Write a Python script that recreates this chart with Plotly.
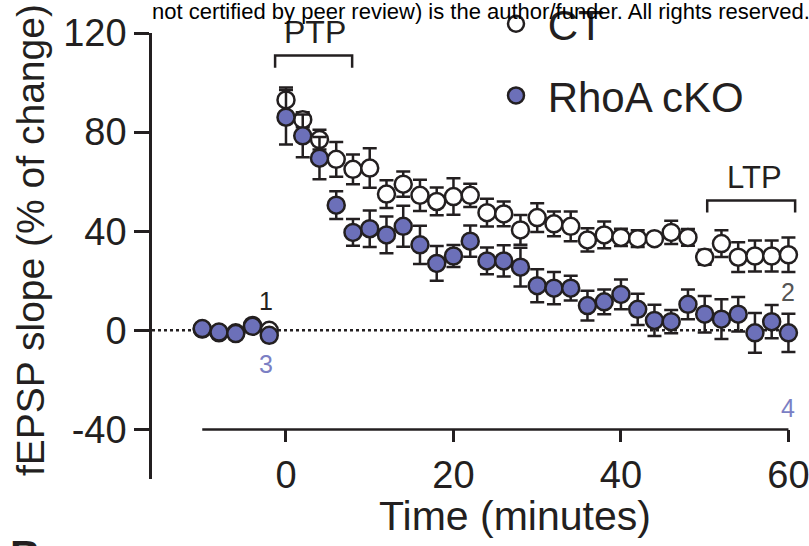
import plotly.graph_objects as go

# ---- data ----
time_base = [-10, -8, -6, -4, -2]
time_post = [0, 2, 4, 6, 8, 10, 12, 14, 16, 18, 20, 22, 24, 26, 28, 30,
             32, 34, 36, 38, 40, 42, 44, 46, 48, 50, 52, 54, 56, 58, 60]

ct_base = [0.5, -1, -1, 2, 0]
ct_base_err = [1, 1, 1, 1, 1]
ko_base = [0.7, -0.7, -1.3, 1.6, -2]
ko_base_err = [1, 1, 1, 1, 1]

ct_post = [93, 85, 77, 69, 65, 65.5, 55, 59, 54.5, 52, 54, 54.5, 47.5, 47, 40.5, 45.5,
           43, 42, 36.5, 38.5, 37.5, 37, 37, 39.5, 37.5, 29.5, 35, 29.5, 30, 30, 30.5]
ct_post_err = [5, 3, 4, 7, 6, 8, 5.6, 5.1, 6.3, 5.6, 7.4, 4.7, 5.6, 5, 6, 5.8,
               5, 6, 4.7, 5.4, 3.5, 3.4, 1, 4.7, 3.4, 3, 5.4, 6, 6.3, 6.3, 7]
ko_post = [86, 78.5, 69.5, 50.5, 39.5, 41, 38.5, 42, 34.5, 27, 30, 36, 28, 28, 25.5, 18,
           17, 17, 10, 11.5, 14.5, 8.5, 4, 3.5, 10.5, 6.5, 4.5, 6.5, -1, 3.5, -1]
ko_post_err = [11, 8.6, 8.5, 5.6, 5.4, 7.4, 7.4, 8.3, 7.7, 7, 4.4, 6.3, 5.4, 6.3, 7.8, 6.7,
               6.5, 5, 6, 5, 6, 6.3, 6.3, 4.7, 6, 7.4, 8, 7, 8, 6.7, 7.7]

series_names = ["CT", "RhoA cKO"]
x_ticks = [0, 20, 40, 60]
x_ticktext = ["0", "20", "40", "60"]
y_ticks = [-40, 0, 40, 80, 120]
y_ticktext = ["-40", "0", "40", "80", "120"]

# ---- style ----
INK = "#231f20"
BLUE = "#6c70b9"
LBLUE = "#7b7fc4"
FONT = "Liberation Sans, Arial, sans-serif"

times = time_base + time_post
ct = ct_base + ct_post
ct_err = ct_base_err + ct_post_err
ko = ko_base + ko_post
ko_err = ko_base_err + ko_post_err

fig = go.Figure()

def add_series(y, err, name, fill, group):
    fig.add_trace(go.Scatter(
        x=times, y=y, mode="markers", name=" " + name, legendgroup=group,
        marker=dict(size=17, color=fill, line=dict(color=INK, width=2.5)),
        error_y=dict(type="data", array=err, visible=True, color=INK,
                     thickness=2.5, width=7),
        cliponaxis=False,
    ))

add_series(ct, ct_err, series_names[0], "white", "g1")
add_series(ko, ko_err, series_names[1], BLUE, "g2")

shapes = [
    # dotted zero line
    dict(type="line", xref="x", yref="y", x0=-16, x1=60.5, y0=0, y1=0,
         line=dict(color=INK, width=2.5, dash="3px,3px"), layer="below"),
    # x-axis line (offset)
    dict(type="line", xref="x", yref="y", x0=-10, x1=60, y0=-40, y1=-40,
         line=dict(color=INK, width=2.5)),
    # PTP bracket
    dict(type="path", xref="x", yref="y",
         path="M -1.3,106 L -1.3,110.9 L 7.9,110.9 L 7.9,106",
         line=dict(color=INK, width=2.5)),
    # LTP bracket
    dict(type="path", xref="x", yref="y",
         path="M 50.3,47.6 L 50.3,52.4 L 60.8,52.4 L 60.8,47.6",
         line=dict(color=INK, width=2.5)),
]

annotations = [
    dict(text="PTP", x=3.5, y=112.5, xref="x", yref="y", showarrow=False,
         yanchor="bottom", font=dict(size=32, color=INK, family=FONT)),
    dict(text="LTP", x=56.0, y=54, xref="x", yref="y", showarrow=False,
         yanchor="bottom", font=dict(size=31, color=INK, family=FONT)),
    dict(text="1", x=-2.4, y=12, xref="x", yref="y", showarrow=False,
         font=dict(size=25, color=INK, family=FONT)),
    dict(text="3", x=-2.4, y=-13.7, xref="x", yref="y", showarrow=False,
         font=dict(size=25, color=LBLUE, family=FONT)),
    dict(text="2", x=60, y=15.3, xref="x", yref="y", showarrow=False,
         font=dict(size=25, color="#555555", family=FONT)),
    dict(text="4", x=60, y=-31.5, xref="x", yref="y", showarrow=False,
         font=dict(size=25, color=LBLUE, family=FONT)),
    dict(text="Time (minutes)", x=(515 - 152) / 649, y=(479 - 516) / 446,
         xref="paper", yref="paper", showarrow=False, xanchor="center", yanchor="middle",
         font=dict(size=41, color=INK, family=FONT)),
    dict(text="fEPSP slope (% of change)", x=(30 - 152) / 649, y=(479 - 240) / 446,
         xref="paper", yref="paper", showarrow=False, textangle=-90,
         xanchor="center", yanchor="middle",
         font=dict(size=39, color=INK, family=FONT)),
    dict(text="not certified by peer review) is the author/funder. All rights reserved. No reuse allowed without permission.",
         x=(150 - 152) / 649, y=1 + (33 - 26) / 446, xref="paper", yref="paper",
         showarrow=False, xanchor="left", yanchor="bottom",
         font=dict(size=22, color="black", family=FONT)),
    dict(text="<b>B</b>", x=(8 - 152) / 649, y=-(530 - 479) / 446, xref="paper", yref="paper",
         showarrow=False, xanchor="left", yanchor="top",
         font=dict(size=42, color=INK, family=FONT)),
]

fig.update_layout(
    width=809, height=546,
    margin=dict(l=152, r=8, t=33, b=67, autoexpand=False),
    paper_bgcolor="white", plot_bgcolor="white",
    font=dict(family=FONT, color=INK),
    showlegend=True,
    legend=dict(x=(496 - 152) / 649, y=1 + (33 + 10) / 446, xanchor="left", yanchor="top",
                font=dict(size=42, color=INK, family=FONT), bgcolor="rgba(0,0,0,0)",
                tracegroupgap=14),
    xaxis=dict(range=[-16, 61.5], showgrid=False, zeroline=False, showline=False,
               tickmode="array", tickvals=x_ticks, ticktext=x_ticktext,
               ticks="outside", ticklen=12, ticklabeloverflow="allow",
               tickwidth=2.5, tickcolor=INK, anchor="free", position=20 / 180,
               tickfont=dict(size=38, color=INK, family=FONT)),
    yaxis=dict(range=[-60, 120], showgrid=False, zeroline=False, showline=True,
               linecolor=INK, linewidth=2.5, tickmode="array", tickvals=y_ticks,
               ticktext=y_ticktext,
               ticks="outside", ticklen=15, tickwidth=2.5, tickcolor=INK,
               tickfont=dict(size=38, color=INK, family=FONT)),
    shapes=shapes, annotations=annotations,
)

fig.write_html("out.html")
